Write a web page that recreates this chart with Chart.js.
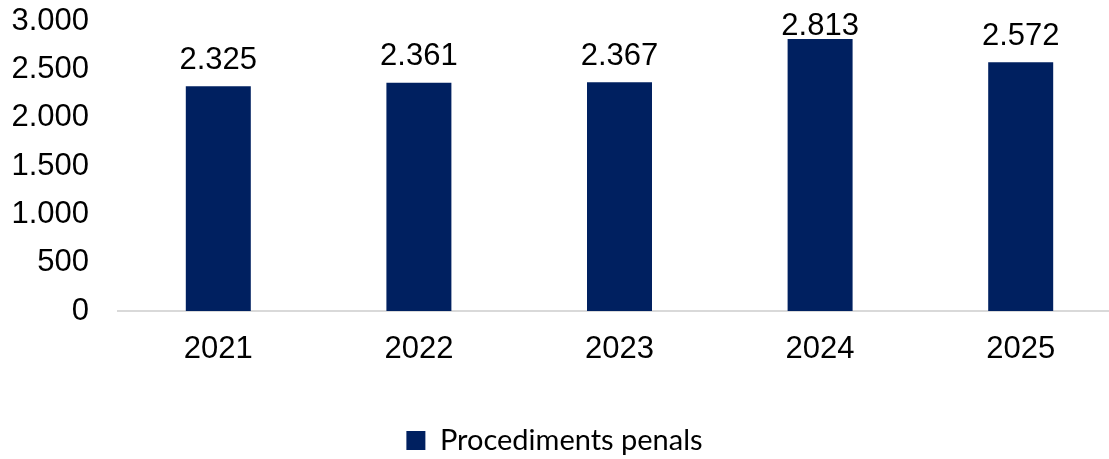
<!DOCTYPE html>
<html>
<head>
<meta charset="utf-8">
<script src="https://cdn.jsdelivr.net/npm/chart.js@4/dist/chart.umd.min.js"></script>
<style>
html,body{margin:0;padding:0;background:#fff;overflow:hidden;width:1109px;height:459px;}
#wrap{position:absolute;left:-12px;top:0;width:1133px;height:459px;}
</style>
</head>
<body>
<div id="wrap"><canvas id="c" width="1133" height="459"></canvas></div>
<script>
const categories = ['2021', '2022', '2023', '2024', '2025'];
const seriesName = 'Procediments penals';
const values = [2325, 2361, 2367, 2813, 2572];
const yTicks = [0, 500, 1000, 1500, 2000, 2500, 3000];

const fmt = v => v.toLocaleString('de-DE');

const labelPlugin = {
  id: 'valueLabels',
  afterDatasetsDraw(chart) {
    const ctx = chart.ctx;
    const meta = chart.getDatasetMeta(0);
    ctx.save();
    ctx.font = '31px "Liberation Sans", Arial, sans-serif';
    ctx.fillStyle = '#000';
    ctx.textAlign = 'center';
    ctx.textBaseline = 'middle';
    meta.data.forEach((bar, i) => {
      let y = bar.y - 26;
      y = Math.max(y, chart.chartArea.top + 5);
      ctx.fillText(fmt(values[i]), bar.x, y);
    });
    ctx.restore();
  }
};

new Chart(document.getElementById('c'), {
  type: 'bar',
  data: {
    labels: categories,
    datasets: [{
      label: seriesName,
      data: values,
      backgroundColor: '#002060',
      borderWidth: 0,
      barPercentage: 0.324,
      categoryPercentage: 1.0
    }]
  },
  options: {
    responsive: false,
    animation: false,
    devicePixelRatio: 1,
    layout: { padding: { left: 0, right: 0, top: 21, bottom: -6 } },
    plugins: {
      legend: {
        position: 'bottom',
        labels: {
          boxWidth: 19,
          boxHeight: 19,
          color: '#000',
          font: { family: 'Lato, "Open Sans", sans-serif', size: 29 },
          padding: 0
        }
      },
      tooltip: { enabled: false }
    },
    scales: {
      x: {
        grid: { display: false, drawTicks: false },
        border: { display: true, color: '#d9d9d9', width: 2 },
        ticks: {
          color: '#000',
          font: { family: '"Liberation Sans", Arial, sans-serif', size: 31 },
          padding: 20
        },
        afterFit(scale) { scale.height = 115; scale.paddingLeft = 0; scale.paddingRight = 0; }
      },
      y: {
        min: 0,
        max: 3000,
        afterBuildTicks(scale) { scale.ticks = yTicks.map(v => ({ value: v })); },
        grid: { display: false, drawTicks: false },
        border: { display: false },
        ticks: {
          color: '#000',
          font: { family: '"Liberation Sans", Arial, sans-serif', size: 31 },
          padding: 29,
          callback: v => fmt(v)
        },
        afterFit(scale) { scale.width = 130; scale.paddingTop = 0; scale.paddingBottom = 0; }
      }
    }
  },
  plugins: [labelPlugin]
});
</script>
</body>
</html>
